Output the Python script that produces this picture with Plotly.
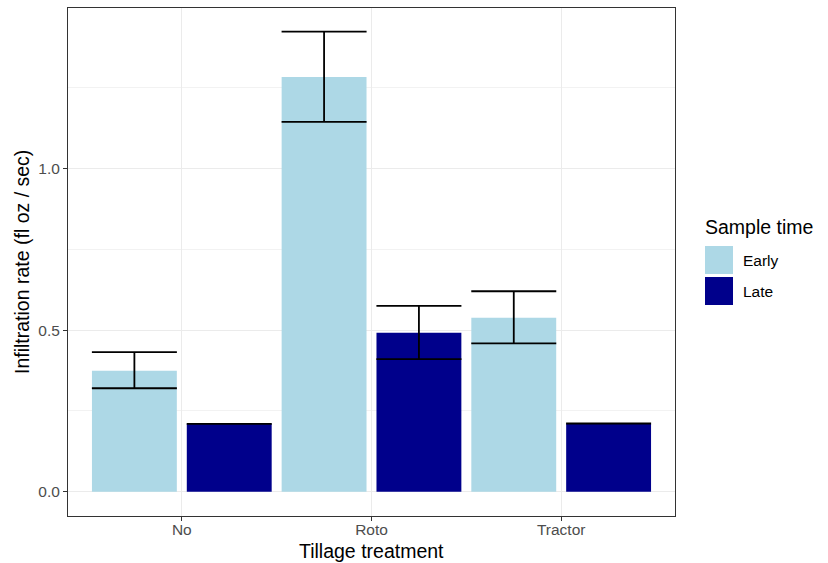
import plotly.graph_objects as go

# Mean infiltration rate with standard error, by tillage and sample time
tillage = ["No", "Roto", "Tractor"]
sample_times = ["Early", "Late"]
early_mean = [0.374, 1.283, 0.538]
early_err_up = [0.058, 0.140, 0.082]
early_err_down = [0.054, 0.139, 0.079]
late_mean = [0.210, 0.492, 0.211]
late_err_up = [0.0, 0.083, 0.0]
late_err_down = [0.0, 0.082, 0.0]
fill_colors = ["#ADD8E6", "#00008B"]

means = [early_mean, late_mean]
ups = [early_err_up, late_err_up]
downs = [early_err_down, late_err_down]

fig = go.Figure()
for name, color, m, up, dn in zip(sample_times, fill_colors, means, ups, downs):
    fig.add_trace(go.Bar(
        x=tillage, y=m, name=name, marker=dict(color=color, line=dict(width=0)),
        error_y=dict(type="data", symmetric=False, array=up, arrayminus=dn,
                     color="black", thickness=1.8, width=42.5),
        showlegend=False,
    ))

font = "Liberation Sans, Arial, Helvetica, sans-serif"
TICK = 15.5
TITLE = 19.5
L, R, T, B = 68, 153, 8, 47
W, H = 828, 563
PW, PH = W - L - R, H - T - B


def px_x(x):
    return (x - L) / PW


def px_y(y):
    return (H - B - y) / PH


fig.update_layout(
    width=W, height=H,
    margin=dict(l=L, r=R, t=T, b=B, autoexpand=False),
    paper_bgcolor="white", plot_bgcolor="white",
    barmode="group", bargap=0.0, bargroupgap=0.105,
    font=dict(family=font, color="black"),
    xaxis=dict(
        range=[-0.6, 2.6], showgrid=True, gridcolor="#EBEBEB", gridwidth=1.1,
        ticks="outside", ticklen=4, tickcolor="#333333",
        tickfont=dict(size=TICK, color="#4D4D4D"), automargin=False,
        ticklabelstandoff=-5,
        showline=True, linecolor="#333333", mirror=True, linewidth=1,
        zeroline=False,
    ),
    yaxis=dict(
        range=[-0.075, 1.496], tickvals=[0.0, 0.5, 1.0], ticktext=["0.0", "0.5", "1.0"],
        showgrid=True, gridcolor="#EBEBEB", gridwidth=1.1,
        minor=dict(tickvals=[0.25, 0.75, 1.25], showgrid=True, gridcolor="#F2F2F2", gridwidth=0.6),
        ticks="outside", ticklen=4, tickcolor="#333333",
        tickfont=dict(size=TICK, color="#4D4D4D"), automargin=False,
        showline=True, linecolor="#333333", mirror=True, linewidth=1,
        zeroline=False,
    ),
)

# Axis titles
fig.add_annotation(xref="paper", yref="paper", x=0.5, y=px_y(551),
                   text="Tillage treatment", showarrow=False,
                   xanchor="center", yanchor="middle",
                   font=dict(size=TITLE, family=font, color="black"))
fig.add_annotation(xref="paper", yref="paper", x=px_x(22), y=0.5,
                   text="Infiltration rate (fl oz / sec)", showarrow=False, textangle=-90,
                   xanchor="center", yanchor="middle",
                   font=dict(size=TITLE, family=font, color="black"))

# Legend drawn as ggplot-style keys to the right of the panel
fig.add_annotation(xref="paper", yref="paper", x=px_x(703), y=px_y(227),
                   text="Sample time", showarrow=False, xanchor="left", yanchor="middle",
                   font=dict(size=TITLE, family=font, color="black"))
key_top = [246, 277]
for name, color, top in zip(sample_times, fill_colors, key_top):
    y0 = px_y(top + 28)
    y1 = px_y(top)
    fig.add_shape(type="rect", xref="paper", yref="paper",
                  x0=px_x(705), x1=px_x(733), y0=y0, y1=y1,
                  fillcolor=color, line=dict(width=0))
    fig.add_annotation(xref="paper", yref="paper", x=px_x(741), y=(y0 + y1) / 2,
                       text=name, showarrow=False, xanchor="left", yanchor="middle",
                       font=dict(size=TICK, family=font, color="black"))

fig.write_html("out.html")
